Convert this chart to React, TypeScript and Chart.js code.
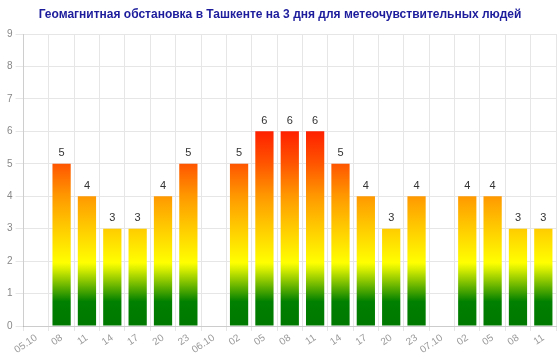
import React, { useEffect, useRef } from "react";
import { Chart, registerables } from "chart.js";

Chart.register(...registerables);

const labels = ["05.10", "08", "11", "14", "17", "20", "23", "06.10", "02", "05", "08", "11", "14", "17", "20", "23", "07.10", "02", "05", "08", "11"];
const values: (number | null)[] = [null, 5, 4, 3, 3, 4, 5, null, 5, 6, 6, 6, 5, 4, 3, 4, null, 4, 4, 3, 3];
const titleText = "Геомагнитная обстановка в Ташкенте на 3 дня для метеочувствительных людей";

// gradient stops by value
const gradStops: [number, string][] = [
  [0, "#007800"],
  [0.75, "#008000"],
  [1.75, "#d8ee00"],
  [1.95, "#ffff00"],
  [3, "#ffcc00"],
  [4, "#ff9900"],
  [5, "#ff5500"],
  [6, "#ff2000"],
];

const FONT = "Arial, 'Liberation Sans', sans-serif";

const extras = {
  id: "extras",
  afterDatasetsDraw(chart: any) {
    const ctx = chart.ctx;
    const meta = chart.getDatasetMeta(0);
    ctx.save();
    ctx.font = "11px " + FONT;
    ctx.fillStyle = "#333";
    ctx.textAlign = "center";
    ctx.textBaseline = "bottom";
    meta.data.forEach((el: any, i: number) => {
      const v = values[i];
      if (v == null) return;
      ctx.fillText(String(v), el.x, el.y - 5);
    });
    ctx.font = "bold 12px " + FONT;
    ctx.fillStyle = "#1c1c9c";
    ctx.textBaseline = "middle";
    ctx.fillText(titleText, chart.width / 2, 15);
    ctx.restore();
  },
};

export default function App() {
  const ref = useRef<HTMLCanvasElement>(null);
  useEffect(() => {
    document.body.style.margin = "0";
    const chart = new Chart(ref.current!, {
      type: "bar",
      data: {
        labels,
        datasets: [
          {
            data: values,
            backgroundColor: (c: any) => {
              const ch = c.chart;
              const ys = ch.scales.y;
              if (!ch.chartArea || !ys) return "#ff9900";
              const y0 = ys.getPixelForValue(0);
              const y1 = ys.getPixelForValue(6);
              const g = ch.ctx.createLinearGradient(0, y0, 0, y1);
              gradStops.forEach(([v, col]) => g.addColorStop(v / 6, col));
              return g;
            },
            borderWidth: 0,
          },
        ],
      },
      options: {
        animation: false,
        responsive: true,
        maintainAspectRatio: false,
        layout: { padding: { left: 4, right: 4, top: 34, bottom: 0 } },
        plugins: {
          legend: { display: false },
          tooltip: { enabled: false },
          title: { display: false },
        },
        scales: {
          x: {
            grid: { color: "#e6e6e6", offset: true, tickLength: 5 },
            border: { color: "#cccccc" },
            ticks: {
              color: "#999",
              font: { size: 10, family: FONT },
              minRotation: 34,
              maxRotation: 34,
              autoSkip: false,
              padding: 1,
            },
            afterFit: (s: any) => {
              s.height = 33;
            },
          },
          y: {
            min: 0,
            max: 9,
            grid: { color: "#e6e6e6" },
            ticks: {
              stepSize: 1,
              color: "#888",
              font: { size: 10, family: FONT },
            },
          },
        },
      },
      plugins: [extras],
    });
    return () => chart.destroy();
  }, []);
  return (
    <div style={{ position: "fixed", left: 0, top: 0, width: 560, height: 359 }}>
      <canvas ref={ref} />
    </div>
  );
}
